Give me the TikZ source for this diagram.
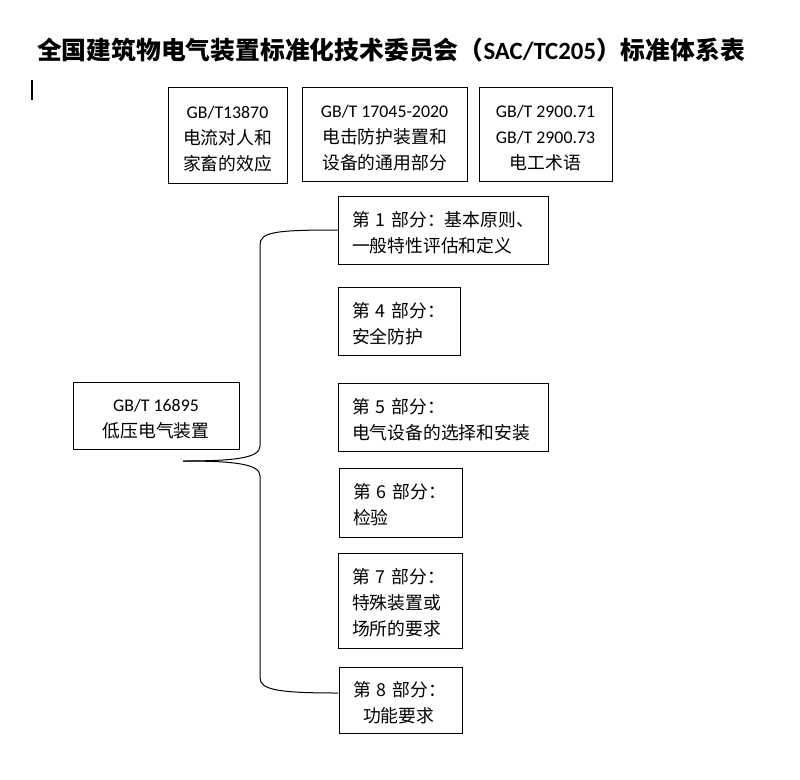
\documentclass[tikz,border=0pt]{standalone}
\usepackage{fontspec}
\setmainfont{Carlito}
\newfontfamily\cjk{Noto Sans CJK SC}
\newfontfamily\lat{Carlito}
\newcommand{\topgap}{\rule{0pt}{20pt}}
\usetikzlibrary{positioning}

\begin{document}
\begin{tikzpicture}[
  x=1pt,y=-1pt,
  font=\cjk\fontsize{17.8}{26}\selectfont,
  titletext/.style={font=\cjk\bfseries\fontsize{24.8}{28}\selectfont,inner sep=0pt},
  stdbox/.style={draw,line width=1pt,align=center,inner sep=0pt},
  partbox/.style={draw,line width=1pt,align=left,inner xsep=14pt,inner ysep=0pt},
  brace/.style={line width=1pt},
]
\useasboundingbox (0,0) rectangle (800,779);

% ---- Title ------------------------------------------------------------------
\node[titletext] (title) at (391,50)
  {全国建筑物电气装置标准化技术委员会（{\lat\bfseries SAC/TC205}）标准体系表};
\draw[line width=2pt] (32,80) -- (32,100);

% ---- Basic standards on top -------------------------------------------------
\node[stdbox,minimum width=119pt,minimum height=96pt] (b13870) at (227.5,135)
  {\topgap{\lat GB/T13870}\\电流对人和\\家畜的效应};
\node[stdbox,minimum width=165pt,minimum height=94pt] (b17045) at (384.5,134)
  {\topgap{\lat GB/T 17045-2020}\\电击防护装置和\\设备的通用部分};
\node[stdbox,minimum width=133pt,minimum height=94pt] (b2900) at (545.5,134)
  {\topgap{\lat GB/T 2900.71}\\{\lat GB/T 2900.73}\\电工术语};

% ---- Main standard ----------------------------------------------------------
\node[stdbox,minimum width=166pt,minimum height=67pt] (b16895) at (156,415.5)
  {\topgap{\lat GB/T 16895}\\低压电气装置};

% ---- Parts ------------------------------------------------------------------
\node[partbox,text width=182pt,minimum height=68pt] (p1) at (443,230)
  {\topgap 第 1 部分：基本原则、\\一般特性评估和定义};
\node[partbox,text width=94pt,minimum height=68pt] (p4) at (399,321)
  {\topgap 第 4 部分：\\安全防护};
\node[partbox,text width=182pt,minimum height=68pt] (p5) at (443,417)
  {\topgap 第 5 部分：\\电气设备的选择和安装};
\node[partbox,text width=95pt,minimum height=69pt] (p6) at (400.5,502.5)
  {\topgap 第 6 部分：\\检验};
\node[partbox,text width=96pt,minimum height=95pt] (p7) at (400,600.5)
  {\topgap 第 7 部分：\\特殊装置或\\场所的要求};
\node[partbox,text width=95pt,minimum height=66pt] (p8) at (400.5,700)
  {\topgap 第 8 部分：\\\hspace*{10pt}功能要求};

% ---- Brace from GB/T 16895 to the parts -------------------------------------
\coordinate (tip) at (183,461);
\coordinate (p8end) at (338,693);
\draw[brace] (p1.west) .. controls (275,230) and (260,232) .. (260,245)
  -- (260,446) .. controls (260,458) and (235,461) .. (tip);
\draw[brace] (tip) .. controls (235,461) and (260,464) .. (260,476)
  -- (260,678) .. controls (260,690) and (280,693) .. (p8end);

\end{tikzpicture}
\end{document}
